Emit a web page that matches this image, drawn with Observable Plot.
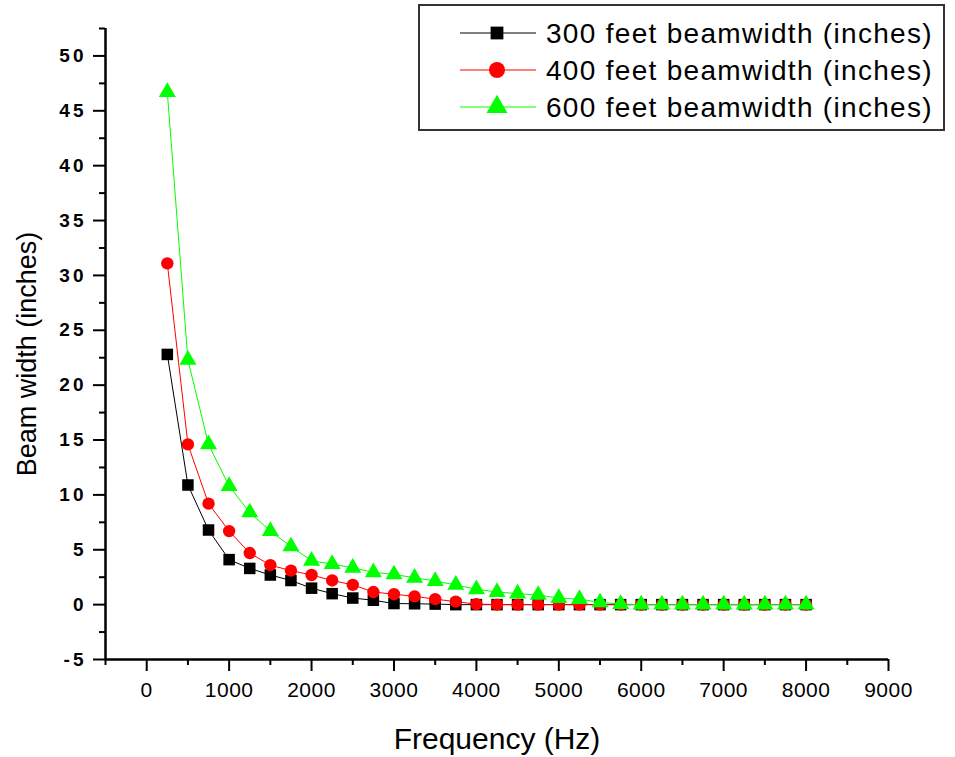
<!DOCTYPE html>
<html><head><meta charset="utf-8">
<script src="https://cdn.jsdelivr.net/npm/d3@7"></script>
<script src="https://cdn.jsdelivr.net/npm/@observablehq/plot@0.6"></script>
<style>
body{margin:0;background:#fff;font-family:"Liberation Sans",Arial,sans-serif;}
#wrap{position:relative;width:955px;height:757px;background:#fff;}
#legend{position:absolute;left:418px;top:4px;}
#chart g[aria-label="y-axis tick label"] text{letter-spacing:3px;}
#chart g[aria-label="x-axis tick label"] text{letter-spacing:0.5px;}
</style></head><body>
<div id="wrap"><div id="chart"></div><div id="legend"></div></div>
<script>
const frequencies = [250,500,750,1000,1250,1500,1750,2000,2250,2500,2750,3000,3250,3500,3750,4000,
  4250,4500,4750,5000,5250,5500,5750,6000,6250,6500,6750,7000,7250,7500,7750,8000];
const beam300 = [22.8,10.9,6.8,4.1,3.3,2.7,2.2,1.5,1.0,0.6,0.4,0.1,0.08,0.05,0,0,
  0,0,0,0,0,0,0,0,0,0,0,0,0,0,0,0];
const beam400 = [31.1,14.6,9.2,6.7,4.7,3.6,3.1,2.7,2.2,1.8,1.15,0.95,0.75,0.5,0.27,0.05,
  0,0,0,0,0,0,0,0,0,0,0,0,0,0,0,0];
const beam600 = [46.7,22.3,14.6,10.8,8.4,6.7,5.3,4.0,3.7,3.35,2.95,2.75,2.45,2.15,1.8,1.4,
  1.15,1.0,0.88,0.6,0.5,0.2,0.05,0,0,0,0,0,0,0,0,0];
const seriesNames = ["300 feet beamwidth (inches)","400 feet beamwidth (inches)","600 feet beamwidth (inches)"];
const seriesColors = ["#000000","#ff0000","#00ff00"];
const seriesSymbols = ["square","circle","triangle"];
const xTicks = [0,1000,2000,3000,4000,5000,6000,7000,8000,9000];
const xMinorTicks = [-500,500,1500,2500,3500,4500,5500,6500,7500,8500];
const yTicks = [-5,0,5,10,15,20,25,30,35,40,45,50];
const yMinorTicks = [-2.5,2.5,7.5,12.5,17.5,22.5,27.5,32.5,37.5,42.5,47.5,52.5];
const xTitle = "Frequency (Hz)";
const yTitle = "Beam width (inches)";

const seriesValues = [beam300, beam400, beam600];
const markerR = [6.5, 6.2, 6.3];
const legendR = [7.2, 8, 7.8];
const seriesRows = seriesValues.map((vals, i) => frequencies.map((f, j) => ({f, v: vals[j], s: seriesNames[i]})));

const seriesMarks = seriesRows.flatMap((rows, i) => [
  Plot.line(rows, {x: "f", y: "v", stroke: seriesColors[i], strokeWidth: 1}),
  Plot.dot(rows, {x: "f", y: "v", symbol: () => seriesSymbols[i], fill: seriesColors[i], stroke: "none", r: markerR[i]})
]);

const chart = Plot.plot({
  width: 955, height: 757,
  marginLeft: 105, marginRight: 67, marginTop: 28, marginBottom: 98,
  x: {domain: [-500, 9000]},
  y: {domain: [-5, 52.5]},
  symbol: {type: "identity"},
  style: {fontFamily: "Liberation Sans, Arial, sans-serif", background: "#fff", color: "#000"},
  marks: [
    Plot.axisY({ticks: yTicks, tickSize: 12, tickPadding: 7, strokeWidth: 2, fontSize: 19, fontWeight: "bold", label: null, tickFormat: d => String(d)}),
    Plot.axisY({ticks: yMinorTicks, tickSize: 6, strokeWidth: 2, text: null, label: null}),
    Plot.axisX({ticks: xTicks, tickSize: 12, tickPadding: 11, strokeWidth: 2, fontSize: 21, label: null, tickFormat: d => String(d)}),
    Plot.axisX({ticks: xMinorTicks, tickSize: 6, strokeWidth: 2, text: null, label: null}),
    Plot.ruleX([-500], {strokeWidth: 2.5}),
    Plot.ruleY([-5], {strokeWidth: 2.5}),
    ...seriesMarks,
    Plot.text([xTitle], {frameAnchor: "bottom", dy: 80, fontSize: 30, lineAnchor: "middle", textAnchor: "middle"}),
    Plot.text([yTitle], {frameAnchor: "left", rotate: -90, dx: -78, dy: 10, fontSize: 27, lineAnchor: "middle", textAnchor: "middle"})
  ]
});
document.getElementById("chart").appendChild(chart);

// Legend
const lw = 527, lh = 127;
const leg = d3.create("svg").attr("width", lw).attr("height", lh)
  .style("font-family", "Liberation Sans, Arial, sans-serif");
leg.append("rect").attr("x", 1).attr("y", 1).attr("width", lw - 2).attr("height", lh - 2)
  .attr("fill", "#fff").attr("stroke", "#333").attr("stroke-width", 2);
const symMap = {square: d3.symbolSquare, circle: d3.symbolCircle, triangle: d3.symbolTriangle};
const rowY = [29, 66, 103];
seriesNames.forEach((name, i) => {
  const g = leg.append("g").attr("transform", `translate(0,${rowY[i]})`);
  g.append("line").attr("x1", 42).attr("x2", 118).attr("y1", 0).attr("y2", 0)
    .attr("stroke", seriesColors[i]).attr("stroke-width", 1);
  g.append("path").attr("transform", "translate(79,0)")
    .attr("d", d3.symbol(symMap[seriesSymbols[i]], Math.PI * legendR[i] * legendR[i])())
    .attr("fill", seriesColors[i]);
  g.append("text").attr("x", 128).attr("y", 0).attr("dy", "0.35em")
    .attr("font-size", 28).style("letter-spacing", "1.3px").attr("fill", "#000").text(name);
});
document.getElementById("legend").appendChild(leg.node());
</script>
</body></html>
